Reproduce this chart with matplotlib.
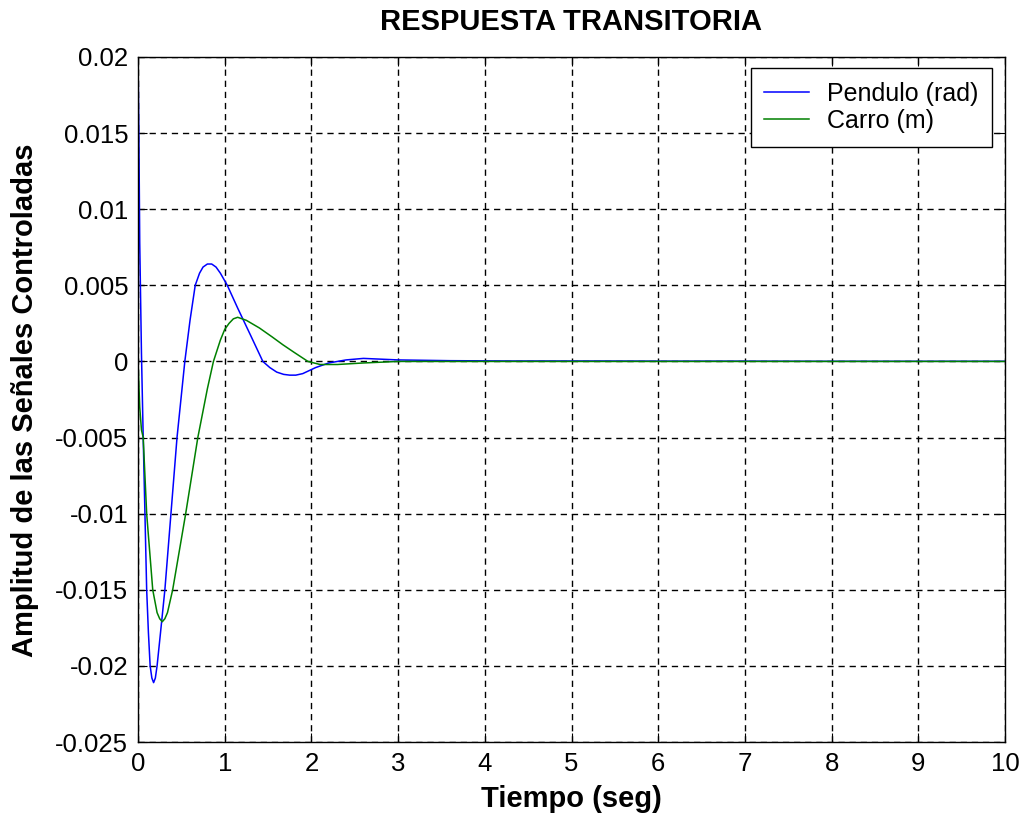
import numpy as np
import matplotlib
matplotlib.use("Agg")
import matplotlib.pyplot as plt

plt.rcParams['font.family'] = ['Liberation Sans', 'DejaVu Sans']
plt.rcParams['axes.unicode_minus'] = False

# Pendulo (rad)
t_pend = [0, 0.005, 0.01, 0.02, 0.04, 0.06, 0.08, 0.10, 0.12, 0.14, 0.16, 0.18, 0.20,
          0.22, 0.26, 0.31, 0.38, 0.45, 0.54, 0.60, 0.66, 0.71, 0.75, 0.80, 0.85,
          0.90, 0.95, 1.03, 1.15, 1.30, 1.44, 1.52, 1.60, 1.68, 1.75, 1.82, 1.90,
          2.05, 2.20, 2.40, 2.60, 2.80, 3.0, 3.6, 4.3, 5.3, 6.0, 6.8, 7.9, 8.8, 9.6, 10]
y_pend = [0.02, 0.0175, 0.015, 0.0078, 0.0005, -0.005, -0.01, -0.015, -0.0178, -0.02,
          -0.0208, -0.0211, -0.0208, -0.02, -0.0178, -0.015, -0.01, -0.005, 0.0,
          0.0027, 0.005, 0.0058, 0.0062, 0.0064, 0.0064, 0.0062, 0.0058, 0.005,
          0.0035, 0.0017, 0.0, -0.0004, -0.0007, -0.00085, -0.0009, -0.0009, -0.0008,
          -0.0004, -0.0001, 0.0001, 0.0002, 0.00015, 0.0001, 0.00005, 0.00003,
          0.00003, 0.00002, 0.00002, 0.00001, 0.00001, 0.00001, 0.00001]

# Carro (m)
t_carro = [0, 0.02, 0.04, 0.06, 0.10, 0.17, 0.22, 0.25, 0.28, 0.31, 0.34, 0.40, 0.55,
           0.69, 0.80, 0.87, 0.95, 1.00, 1.05, 1.10, 1.15, 1.20, 1.25, 1.40, 1.55,
           1.67, 1.80, 1.96, 2.10, 2.30, 2.60, 3.0, 10]
y_carro = [0, -0.003, -0.0045, -0.005, -0.01, -0.015, -0.0165, -0.0169, -0.0171,
           -0.0169, -0.0165, -0.015, -0.01, -0.005, -0.0018, 0.0, 0.0014, 0.0021,
           0.0025, 0.0028, 0.0029, 0.0028, 0.0027, 0.0022, 0.0016, 0.0011, 0.0006,
           0.0, -0.0002, -0.0002, -0.0001, 0.0, 0.0]

xticks = list(range(0, 11))
yticks = [0.02, 0.015, 0.01, 0.005, 0, -0.005, -0.01, -0.015, -0.02, -0.025]
ylabels = ['0.02', '0.015', '0.01', '0.005', '0', '-0.005', '-0.01', '-0.015', '-0.02', '-0.025']

W, H = 1024, 817
fig = plt.figure(figsize=(W / 100, H / 100), dpi=100)
ax = fig.add_axes([138 / W, 1 - 742 / H, (1005 - 138) / W, (742 - 57) / H])

ax.plot(t_pend, y_pend, color=(0, 0, 1), lw=1.1, label='Pendulo (rad)')
ax.plot(t_carro, y_carro, color=(0, 0.5, 0), lw=1.1, label='Carro (m)')

ax.set_xlim(0, 10)
ax.set_ylim(-0.025, 0.02)
ax.set_xticks(xticks)
ax.set_xticklabels([str(x) for x in xticks])
ax.set_yticks(yticks)
ax.set_yticklabels(ylabels)
ax.tick_params(direction='in', labelsize=18.5, length=6.5, top=True, right=True)
ax.tick_params(axis='y', pad=7)
ax.tick_params(axis='x', pad=7)
ax.grid(True, color='black', linestyle=(0, (4.5, 3.5)), linewidth=1.0)
for s in ax.spines.values():
    s.set_linewidth(1.0)

fig.text(571 / W, 1 - 22 / H, 'RESPUESTA TRANSITORIA', fontsize=21, fontweight='bold',
         ha='center', va='center')
fig.text(571 / W, 1 - 799 / H, 'Tiempo (seg)', fontsize=21, fontweight='bold',
         ha='center', va='center')
fig.text(25 / W, 1 - 400 / H, 'Amplitud de las Señales Controladas', fontsize=21,
         fontweight='bold', ha='center', va='center', rotation=90)

leg = ax.legend(loc='upper right', bbox_to_anchor=((992 - 138) / 867, (742 - 68) / 685),
                borderaxespad=0, fontsize=18, fancybox=False, framealpha=1,
                edgecolor='black', handlelength=1.8, handletextpad=0.7,
                labelspacing=0.12, borderpad=0.55)
leg.get_frame().set_linewidth(1.0)

fig.savefig('out.png', dpi=100)
